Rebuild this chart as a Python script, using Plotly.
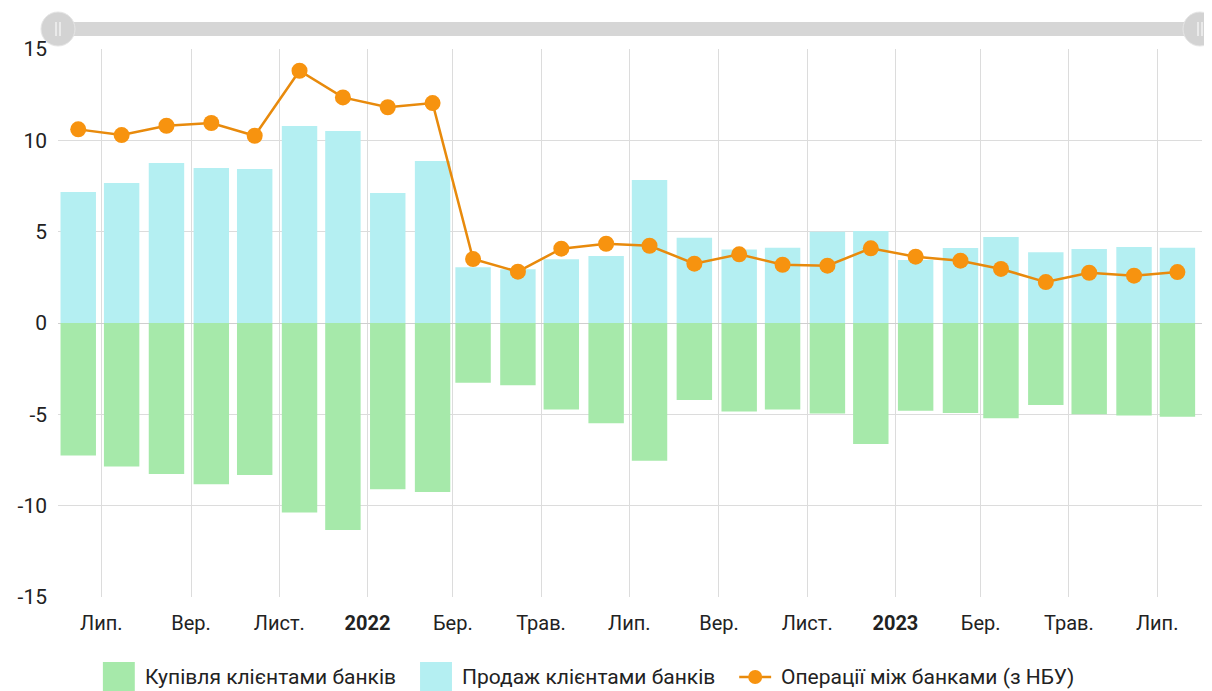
import pandas as pd
import plotly.graph_objects as go

# місяці (червень 2021 - липень 2023)
months = ['2021-06', '2021-07', '2021-08', '2021-09', '2021-10', '2021-11', '2021-12',
          '2022-01', '2022-02', '2022-03', '2022-04', '2022-05', '2022-06', '2022-07',
          '2022-08', '2022-09', '2022-10', '2022-11', '2022-12', '2023-01', '2023-02',
          '2023-03', '2023-04', '2023-05', '2023-06', '2023-07']

buy = [-7.26, -7.86, -8.27, -8.83, -8.32, -10.38, -11.33, -9.10, -9.25, -3.27,
       -3.41, -4.73, -5.49, -7.54, -4.21, -4.85, -4.73, -4.95, -6.62, -4.80,
       -4.93, -5.22, -4.49, -5.00, -5.07, -5.13]

sell = [7.17, 7.66, 8.76, 8.48, 8.43, 10.78, 10.51, 7.12, 8.87, 3.05,
        2.94, 3.49, 3.67, 7.83, 4.67, 4.03, 4.12, 5.00, 5.04, 3.45,
        4.10, 4.71, 3.87, 4.05, 4.16, 4.12]

interbank = [10.60, 10.29, 10.80, 10.95, 10.25, 13.81, 12.35, 11.81, 12.04, 3.50,
             2.81, 4.07, 4.34, 4.23, 3.25, 3.76, 3.19, 3.14, 4.09, 3.63,
             3.41, 2.96, 2.24, 2.75, 2.59, 2.79]

tick_dates = ['2021-07-01', '2021-09-01', '2021-11-01', '2022-01-01', '2022-03-01',
              '2022-05-01', '2022-07-01', '2022-09-01', '2022-11-01', '2023-01-01',
              '2023-03-01', '2023-05-01', '2023-07-01']
tick_text = ['Лип.', 'Вер.', 'Лист.', '<b>2022</b>', 'Бер.', 'Трав.', 'Лип.',
             'Вер.', 'Лист.', '<b>2023</b>', 'Бер.', 'Трав.', 'Лип.']

y_ticks = [-15, -10, -5, 0, 5, 10, 15]
y_text = ['-15', '-10', '-5', '0', '5', '10', '15']

names = ['Купівля клієнтами банків', 'Продаж клієнтами банків',
         'Операції між банками (з НБУ)']

GREEN = '#a6e9aa'
CYAN = '#b4eff2'
ORANGE = '#f7930f'
LINE = '#e88a0c'

# бари по центру місяця
x = pd.to_datetime([m + '-15' for m in months])
bar_w = 24.5 * 86400000

fig = go.Figure()
fig.add_trace(go.Bar(x=x, y=buy, name=names[0], marker_color=GREEN,
                     marker_line_width=0, width=bar_w, showlegend=False))
fig.add_trace(go.Bar(x=x, y=sell, name=names[1], marker_color=CYAN,
                     marker_line_width=0, width=bar_w, showlegend=False))
fig.add_trace(go.Scatter(x=x, y=interbank, name=names[2], mode='lines+markers',
                         line=dict(color=LINE, width=2.5),
                         marker=dict(color=ORANGE, size=16, line=dict(width=0)),
                         showlegend=False))

# сторінка має відступ 8px, тому фігура трохи менша за вікно
OFF = 8
W, H = 1212 - OFF, 691 - OFF
L, R, T, B = 55 - OFF, 10, 49 - OFF, 691 - 597
pw, ph = W - L - R, H - T - B


def px_x(p):
    return (p - OFF - L) / pw


def px_y(p):
    return (H - B - (p - OFF)) / ph


shapes = []
annotations = []

# повзунок масштабу зверху
shapes.append(dict(type='rect', xref='paper', yref='paper',
                   x0=px_x(68), x1=px_x(1198), y0=px_y(36), y1=px_y(22),
                   fillcolor='#d6d6d6', line_width=0, layer='above'))
for cx in (55, 1200):
    shapes.append(dict(type='circle', xref='paper', yref='paper',
                       xsizemode='pixel', ysizemode='pixel',
                       xanchor=px_x(cx), yanchor=px_y(29),
                       x0=-17, x1=17, y0=-17, y1=17,
                       fillcolor='#d3d3d3', line=dict(color='#e6e6e6', width=1)))
    for dx in (-2, 2):
        shapes.append(dict(type='line', xref='paper', yref='paper',
                           xsizemode='pixel', ysizemode='pixel',
                           xanchor=px_x(cx), yanchor=px_y(29),
                           x0=dx, x1=dx, y0=-7, y1=7,
                           line=dict(color='#f2f2f2', width=1.5)))

# легенда
legend_y = 677
items = [(100, GREEN, names[0]), (418, CYAN, names[1])]
for x0, col, txt in items:
    shapes.append(dict(type='rect', xref='paper', yref='paper',
                       x0=px_x(x0), x1=px_x(x0 + 32), y0=px_y(694), y1=px_y(662),
                       fillcolor=col, line_width=0))
    annotations.append(dict(x=px_x(x0 + 40), y=px_y(legend_y), xref='paper', yref='paper',
                            text=txt, showarrow=False, xanchor='left', yanchor='middle',
                            font=dict(size=21, color='#222222')))
shapes.append(dict(type='line', xref='paper', yref='paper',
                   x0=px_x(738), x1=px_x(770), y0=px_y(legend_y), y1=px_y(legend_y),
                   line=dict(color=LINE, width=2.5)))
shapes.append(dict(type='circle', xref='paper', yref='paper',
                   xsizemode='pixel', ysizemode='pixel',
                   xanchor=px_x(754), yanchor=px_y(legend_y),
                   x0=-7, x1=7, y0=-7, y1=7, fillcolor=ORANGE, line_width=0))
annotations.append(dict(x=px_x(778), y=px_y(legend_y), xref='paper', yref='paper',
                        text=names[2], showarrow=False, xanchor='left', yanchor='middle',
                        font=dict(size=21, color='#222222')))

fig.update_layout(
    width=W, height=H,
    margin=dict(l=L, r=R, t=T, b=B),
    barmode='relative',
    plot_bgcolor='white', paper_bgcolor='white',
    font=dict(family='Roboto, Noto Sans, sans-serif', size=20, color='#222222'),
    shapes=shapes, annotations=annotations,
    xaxis=dict(range=['2021-06-01', '2023-08-01'], tickvals=tick_dates, ticktext=tick_text,
               showgrid=True, gridcolor='#dcdcdc', gridwidth=1,
               ticks='', showline=False, zeroline=False, ticklabelstandoff=12),
    yaxis=dict(range=[-15, 15], tickvals=y_ticks, ticktext=y_text,
               showgrid=True, gridcolor='#dcdcdc', gridwidth=1,
               zeroline=True, zerolinecolor='#cfcfcf', zerolinewidth=1,
               ticks='', ticklabelstandoff=10, tickfont=dict(size=21)),
)

fig.write_html('out.html')
